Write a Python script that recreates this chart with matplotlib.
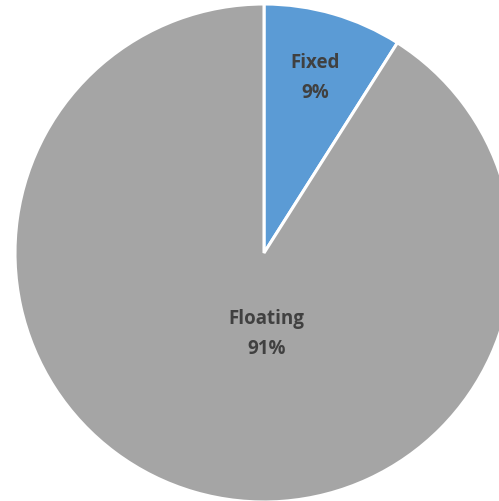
import matplotlib

matplotlib.use("Agg")
import matplotlib.pyplot as plt

categories = ["Fixed", "Floating"]
shares = [9, 91]
colors = ["#5B9BD5", "#A5A5A5"]

fig = plt.figure(figsize=(4.99, 5.02), dpi=100)
ax = fig.add_axes([0, 0, 1, 1])

scale = 249.0
wedges, texts = ax.pie(
    shares,
    colors=colors,
    startangle=90,
    counterclock=False,
    radius=1.0,
    labels=[f"{name}\n{value}%" for name, value in zip(categories, shares)],
    labeldistance=0.735,
    wedgeprops={"edgecolor": "white", "linewidth": 2.2},
    textprops={
        "fontsize": 13.5,
        "fontweight": "bold",
        "color": "#404040",
        "family": "Open Sans",
        "ha": "center",
        "va": "center",
        "linespacing": 1.65,
    },
)
texts[1].set_position((0.01, -0.32))
for t in texts:
    t.set_horizontalalignment("center")

ax.set_xlim(-264 / scale, (499 - 264) / scale)
ax.set_ylim(-248 / scale, 254 / scale)
ax.axis("off")

fig.savefig("out.png", dpi=100)
